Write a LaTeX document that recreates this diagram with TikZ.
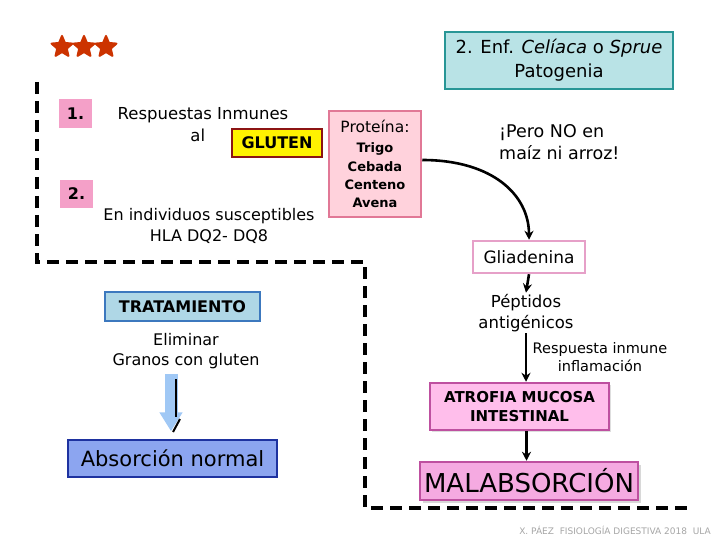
\documentclass[tikz,border=0pt]{standalone}
\usepackage{fontspec}
\setmainfont{DejaVu Sans}
\usetikzlibrary{arrows.meta,shapes.geometric,shadows}
\definecolor{titlefill}{RGB}{185,227,230}
\definecolor{titledraw}{RGB}{40,150,150}
\definecolor{numpink}{RGB}{244,160,200}
\definecolor{glutdraw}{RGB}{140,20,20}
\definecolor{protfill}{RGB}{255,210,220}
\definecolor{protdraw}{RGB}{225,120,150}
\definecolor{gliadraw}{RGB}{230,160,200}
\definecolor{atrofill}{RGB}{255,190,235}
\definecolor{atrodraw}{RGB}{190,80,160}
\definecolor{malfill}{RGB}{245,170,225}
\definecolor{tratfill}{RGB}{175,215,230}
\definecolor{tratdraw}{RGB}{60,120,190}
\definecolor{absfill}{RGB}{140,165,240}
\definecolor{absdraw}{RGB}{30,50,160}
\definecolor{bluearrow}{RGB}{160,200,245}
\definecolor{starred}{RGB}{204,51,0}
\newcommand{\fsz}[1]{\fontsize{#1}{#1}\selectfont}
\tikzset{
  box/.style={draw, line width=2.5pt, inner sep=0pt, align=center, text=black},
  txt/.style={align=center, inner sep=1pt, text=black},
  conn/.style={draw=black, line width=2.6pt, -{Stealth[length=9pt,width=9pt]}},
  starshape/.style={star, star points=5, star point ratio=2.2, fill=starred, draw=starred, line join=round, line width=2pt, minimum size=22pt, inner sep=0pt},
}
\begin{document}
\begin{tikzpicture}[x=1pt,y=-1pt]
\useasboundingbox (0,0) rectangle (720,540);
\fill[white] (0,0) rectangle (720,540);
% stars
\node[starshape] (s1) at (62,47) {};
\node[starshape] (s2) at (84,47) {};
\node[starshape] (s3) at (106,47) {};
% dashed frame
\draw[line width=4pt, dash pattern=on 12pt off 7pt] (37,82) -- (37,262) -- (365,262) -- (365,508) -- (692,508);
% title
\node[box, fill=titlefill, draw=titledraw, minimum width=228pt, minimum height=57pt, font=\fsz{18}] (title) at (559,60.5)
  {2. Enf. \textit{Celíaca} o \textit{Sprue}\\[6pt]Patogenia};
% numbers
\node[box, draw=none, fill=numpink, minimum width=33pt, minimum height=29pt, font=\bfseries\fsz{16}] (one) at (75.5,113.5) {1.};
\node[box, draw=none, fill=numpink, minimum width=33pt, minimum height=28pt, font=\bfseries\fsz{16}] (two) at (76.5,194) {2.};
\node[txt, font=\fsz{16.5}] (resp) at (203,126) {Respuestas Inmunes\\[5pt]al\phantom{g}};
\node[box, fill=yellow, draw=glutdraw, minimum width=90pt, minimum height=28pt, font=\bfseries\fsz{16}] (gluten) at (277,143) {GLUTEN};
\node[txt, font=\fsz{16}] (indiv) at (209,226) {En individuos susceptibles\\[5pt]HLA DQ2- DQ8};
% protein
\node[box, fill=protfill, draw=protdraw, minimum width=92pt, minimum height=106pt] (prot) at (375,164)
  {{\fsz{15.5}Proteína:}\\[8pt]{\bfseries\fsz{13}Trigo}\\[6pt]{\bfseries\fsz{13}Cebada}\\[6pt]{\bfseries\fsz{13}Centeno}\\[6pt]{\bfseries\fsz{13}Avena}};
\node[txt, font=\fsz{17.5}, align=left, anchor=west] (pero) at (498,142) {¡Pero NO en\\[5pt]maíz ni arroz!};
% right column
\node[box, fill=white, draw=gliadraw, minimum width=112pt, minimum height=32pt, font=\fsz{17}] (glia) at (529,257) {Gliadenina};
\node[txt, font=\fsz{16.5}] (pept) at (526,313) {Péptidos\\[4pt]antigénicos};
\node[txt, font=\fsz{14.5}] (resp2) at (600,357) {Respuesta inmune\\[3pt]inflamación};
\node[box, fill=atrofill, draw=atrodraw, minimum width=179pt, minimum height=47pt, font=\bfseries\fsz{15}, drop shadow={shadow xshift=2pt, shadow yshift=-2pt, fill=gray!50}] (atro) at (519.5,406.5) {ATROFIA MUCOSA\\[4pt]INTESTINAL};
\node[box, fill=malfill, draw=atrodraw, minimum width=218pt, minimum height=38pt, font=\fsz{26}, drop shadow={shadow xshift=3pt, shadow yshift=-3pt, fill=gray!60}] (mal) at (529,481) {MALABSORCIÓN};
% left column
\node[box, fill=tratfill, draw=tratdraw, line width=1.5pt, minimum width=155pt, minimum height=29pt, font=\bfseries\fsz{16}] (trat) at (182.5,306.5) {TRATAMIENTO};
\node[txt, font=\fsz{16}] (elim) at (186,351) {Eliminar\\[4pt]Granos con gluten};
\node[box, fill=absfill, draw=absdraw, line width=1.5pt, minimum width=209pt, minimum height=37pt, font=\fsz{21}] (abs) at (172.5,458.5) {Absorción normal};
% footer
\node[txt, anchor=east, text=gray!70, font=\fsz{9}] (foot) at (712,530) {X. PÁEZ \ FISIOLOGÍA DIGESTIVA 2018 \ ULA};
% connectors
\draw[conn] ([yshift=4pt]prot.east) .. controls +(70,0) and +(0,-45) .. (glia.north);
\draw[conn] (glia.south) -- (pept.north);
\draw[conn] (pept.south) -- (pept.south |- atro.north);
\draw[conn] ([xshift=7pt]atro.south) -- ([xshift=7pt]atro.south |- mal.north);
\draw[bluearrow, line width=13pt, -{Triangle[length=19pt,width=22pt]}, shorten >=8pt] ([xshift=-15pt, yshift=-4pt]elim.south) -- ([xshift=-15pt]elim.south |- abs.north);
\draw[black, line width=2pt] (176,379) -- (176,417);
\draw[black, line width=2pt] (180,419) -- (173,432);
\end{tikzpicture}
\end{document}
